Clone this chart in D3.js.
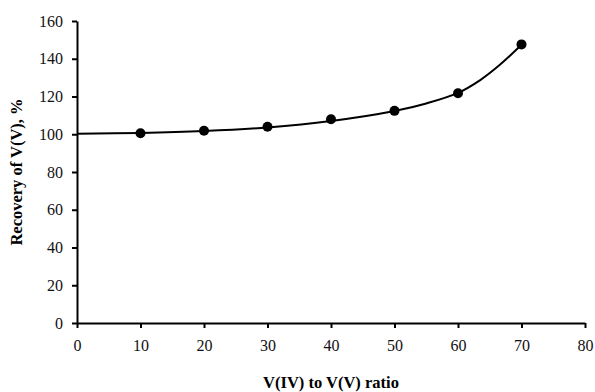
<!DOCTYPE html>
<html>
<head>
<meta charset="utf-8">
<script src="https://cdn.jsdelivr.net/npm/d3@7"></script>
<style>
  body { margin: 0; background: #fff; }
  svg text { font-family: "Liberation Serif", "Times New Roman", Times, "DejaVu Serif", serif; }
</style>
</head>
<body>
<div id="chart"></div>
<script>
// measured points
const ratios = [10, 20, 30, 40, 50, 60, 70];
const recovery = [100.5, 101.9, 104.0, 107.9, 112.4, 121.7, 147.6];

// trend line
const trendX = [0, 10, 20, 30, 40, 50, 55, 60, 63.5, 66.5, 70];
const trendY = [100.3, 100.7, 101.7, 103.6, 107.0, 112.3, 116.3, 121.9, 128.7, 136.5, 147.4];

const xTicks = [0, 10, 20, 30, 40, 50, 60, 70, 80];
const yTicks = [0, 20, 40, 60, 80, 100, 120, 140, 160];

const W = 595, H = 392;
const margin = { top: 21, right: 10, bottom: 69, left: 77 },
    width = 585 - margin.left,
    height = 323 - margin.top;

const serif = '"Liberation Serif", "Times New Roman", Times, "DejaVu Serif", serif';

const svg = d3.select("#chart")
    .append("svg")
    .attr("width", W)
    .attr("height", H)
    .append("g")
    .attr("transform", `translate(${margin.left},${margin.top})`);

const x = d3.scaleLinear().domain([0, 80]).range([0, width]);
const y = d3.scaleLinear().domain([0, 160]).range([height, 0]);

// axes
const xAxis = svg.append("g")
    .attr("transform", `translate(0,${height})`)
    .call(d3.axisBottom(x).tickValues(xTicks).tickSize(5).tickPadding(12).tickSizeOuter(0));

const yAxis = svg.append("g")
    .call(d3.axisLeft(y).tickValues(yTicks).tickSize(5).tickPadding(9).tickSizeOuter(0));

[xAxis, yAxis].forEach(a => {
    a.attr("font-family", serif).attr("font-size", 16);
    a.select(".domain").attr("stroke", "#000").attr("stroke-width", 2);
    a.selectAll(".tick line").attr("stroke", "#000").attr("stroke-width", 2);
    a.selectAll(".tick text").attr("fill", "#111");
});

// trend curve
const line = d3.line()
    .x((d, i) => x(trendX[i]))
    .y(d => y(d))
    .curve(d3.curveCatmullRom);

svg.append("path")
    .datum(trendY)
    .attr("fill", "none")
    .attr("stroke", "#000")
    .attr("stroke-width", 2)
    .attr("d", line);

// points
svg.selectAll("circle.pt")
    .data(recovery)
    .enter()
    .append("circle")
    .attr("class", "pt")
    .attr("cx", (d, i) => x(ratios[i]))
    .attr("cy", d => y(d))
    .attr("r", 5)
    .attr("fill", "#000");

// axis titles
svg.append("text")
    .attr("x", width / 2)
    .attr("y", height + 65)
    .attr("font-family", serif)
    .style("text-anchor", "middle")
    .style("font-size", "16.5px")
    .style("font-weight", "bold")
    .text("V(IV) to V(V) ratio");

svg.append("text")
    .attr("transform", "rotate(-90)")
    .attr("x", -height / 2)
    .attr("y", -55)
    .attr("font-family", serif)
    .style("text-anchor", "middle")
    .style("font-size", "16.5px")
    .style("font-weight", "bold")
    .text("Recovery of V(V), %");
</script>
</body>
</html>
